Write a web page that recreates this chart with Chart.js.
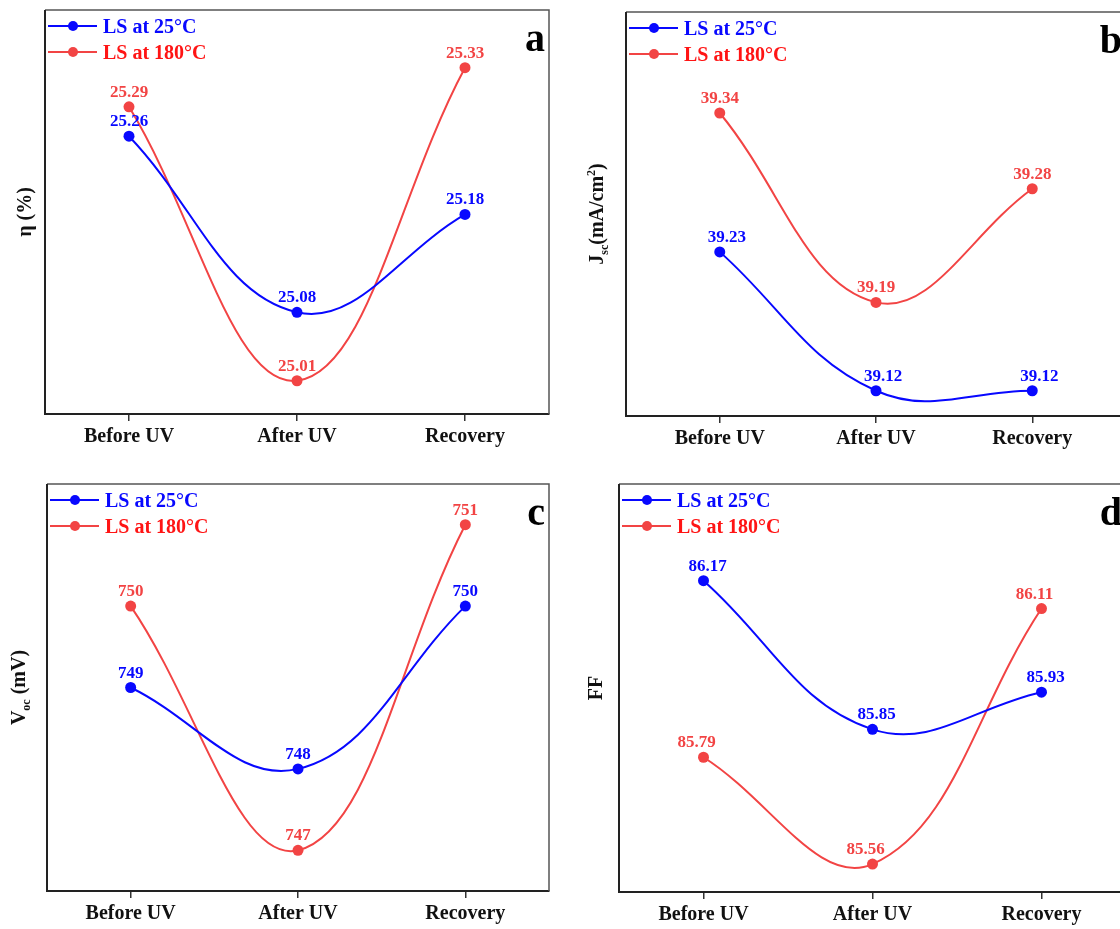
<!DOCTYPE html>
<html>
<head>
<meta charset="utf-8">
<script src="https://cdn.jsdelivr.net/npm/chart.js@4.4.1/dist/chart.umd.min.js"></script>
<style>
    html, body { margin: 0; padding: 0; background: #fff; overflow: hidden; }
    body { width: 1120px; height: 929px; position: relative; }
    canvas { position: absolute; }
</style>
</head>
<body>
<canvas id="chart-a" width="560" height="460" style="left:0;top:0"></canvas>
<canvas id="chart-b" width="580" height="460" style="left:560px;top:0"></canvas>
<canvas id="chart-c" width="560" height="480" style="left:0;top:455px"></canvas>
<canvas id="chart-d" width="580" height="480" style="left:560px;top:455px"></canvas>
<script>
// Datos
const categories = ['Before UV', 'After UV', 'Recovery'];
const seriesNames = ['LS at 25°C', 'LS at 180°C'];

const eta25 = [25.26, 25.08, 25.18];
const eta180 = [25.29, 25.01, 25.33];
const jsc25 = [39.23, 39.12, 39.12];
const jsc180 = [39.34, 39.19, 39.28];
const voc25 = [749, 748, 750];
const voc180 = [750, 747, 751];
const ff25 = [86.17, 85.85, 85.93];
const ff180 = [85.79, 85.56, 86.11];

const BLUE = '#0808ff';
const RED = '#f24444';
const RED_TEXT = '#ff1414';
const SERIF = '"Liberation Serif", "Times New Roman", serif';

// Texto con subíndices / superíndices, centrado en (0,0)
function drawRichText(ctx, parts, size) {
    const small = Math.round(size * 0.62);
    const fontFor = p => `bold ${p[1] ? small : size}px ${SERIF}`;
    let total = 0;
    parts.forEach(p => { ctx.font = fontFor(p); total += ctx.measureText(p[0]).width; });
    let x = -total / 2;
    const base = size * 0.32;
    parts.forEach(p => {
        ctx.font = fontFor(p);
        let dy = 0;
        if (p[1] === 'sub') dy = size * 0.22;
        if (p[1] === 'sup') dy = -size * 0.42;
        ctx.fillText(p[0], x, base + dy);
        x += ctx.measureText(p[0]).width;
    });
}

// Marco, leyenda, etiquetas de datos, título del eje y letra del panel
const panelPlugin = {
    id: 'panelDecor',
    afterDatasetsDraw(chart) {
        const opts = chart.options.plugins.panelDecor;
        const { ctx, chartArea: ca } = chart;
        ctx.save();

        // marco
        ctx.strokeStyle = '#555';
        ctx.lineWidth = 1.5;
        ctx.beginPath();
        ctx.moveTo(ca.left, ca.top);
        ctx.lineTo(ca.right, ca.top);
        ctx.lineTo(ca.right, ca.bottom);
        ctx.stroke();
        ctx.strokeStyle = '#222';
        ctx.lineWidth = 2;
        ctx.beginPath();
        ctx.moveTo(ca.left, ca.top);
        ctx.lineTo(ca.left, ca.bottom + 1);
        ctx.stroke();

        // etiquetas de valores
        ctx.textAlign = 'center';
        ctx.textBaseline = 'alphabetic';
        ctx.font = `bold 17px ${SERIF}`;
        chart.data.datasets.forEach((ds, i) => {
            const meta = chart.getDatasetMeta(i);
            ctx.fillStyle = ds.borderColor;
            meta.data.forEach((pt, j) => {
                const v = ds.data[j].y;
                ctx.fillText(v.toFixed(opts.decimals), pt.x + ds.labelDx, pt.y - 10);
            });
        });

        // leyenda
        chart.data.datasets.forEach((ds, i) => {
            const y = ca.top + 16 + i * 26;
            const x0 = ca.left + 3;
            ctx.strokeStyle = ds.borderColor;
            ctx.lineWidth = 2;
            ctx.beginPath();
            ctx.moveTo(x0, y);
            ctx.lineTo(x0 + 49, y);
            ctx.stroke();
            ctx.fillStyle = ds.borderColor;
            ctx.beginPath();
            ctx.arc(x0 + 25, y, 5, 0, Math.PI * 2);
            ctx.fill();
            ctx.font = `bold 20px ${SERIF}`;
            ctx.textAlign = 'left';
            ctx.fillStyle = i === 0 ? BLUE : RED_TEXT;
            ctx.fillText(ds.label, x0 + 55, y + 6.5);
        });

        // letra del panel
        ctx.font = `bold 40px ${SERIF}`;
        ctx.textAlign = 'right';
        ctx.fillStyle = '#000';
        ctx.fillText(opts.letter, ca.right - 4, ca.top + 41);

        // título del eje Y
        ctx.translate(ca.left - opts.titleGap, (ca.top + ca.bottom) / 2);
        ctx.rotate(-Math.PI / 2);
        ctx.textAlign = 'left';
        ctx.fillStyle = '#111';
        drawRichText(ctx, opts.title, 20);

        ctx.restore();
    }
};

function makePanel(id, cfg) {
    const ctx = document.getElementById(id).getContext('2d');
    const toXY = arr => arr.map((v, i) => ({ x: i, y: v }));
    new Chart(ctx, {
        type: 'line',
        data: {
            datasets: [
                {
                    label: seriesNames[0],
                    data: toXY(cfg.s25),
                    borderColor: BLUE,
                    backgroundColor: BLUE,
                    labelDx: cfg.dx[0]
                },
                {
                    label: seriesNames[1],
                    data: toXY(cfg.s180),
                    borderColor: RED,
                    backgroundColor: RED,
                    labelDx: cfg.dx[1]
                }
            ]
        },
        options: {
            responsive: false,
            animation: false,
            devicePixelRatio: 1,
            layout: { padding: cfg.padding },
            elements: {
                line: { borderWidth: 2, tension: 0.4 },
                point: { radius: 5.5, borderWidth: 0, hoverRadius: 5.5 }
            },
            scales: {
                x: {
                    type: 'linear',
                    min: cfg.xRange[0],
                    max: cfg.xRange[1],
                    afterBuildTicks: scale => {
                        scale.ticks = categories.map((c, i) => ({ value: i }));
                    },
                    ticks: {
                        callback: v => categories[v],
                        color: '#111',
                        padding: 4,
                        maxRotation: 0,
                        autoSkip: false,
                        font: { family: SERIF, size: 20, weight: 'bold', lineHeight: 1.2 }
                    },
                    grid: {
                        drawOnChartArea: false,
                        drawTicks: true,
                        tickLength: 7,
                        color: '#333',
                        lineWidth: 1.5
                    },
                    border: { display: true, color: '#222', width: 2 }
                },
                y: {
                    display: false,
                    min: cfg.yRange[0],
                    max: cfg.yRange[1]
                }
            },
            plugins: {
                legend: { display: false },
                tooltip: { enabled: false },
                panelDecor: {
                    letter: cfg.letter,
                    title: cfg.title,
                    titleGap: cfg.titleGap,
                    decimals: cfg.decimals
                }
            }
        },
        plugins: [panelPlugin]
    });
}

document.addEventListener('DOMContentLoaded', function() {
    makePanel('chart-a', {
        letter: 'a', s25: eta25, s180: eta180, decimals: 2, dx: [0, 0],
        xRange: [-0.5, 2.5], yRange: [24.976, 25.389],
        padding: { left: 45, right: 11, top: 10, bottom: 7 },
        title: [['η (%)']], titleGap: 20
    });
    makePanel('chart-b', {
        letter: 'b', s25: jsc25, s180: jsc180, decimals: 2, dx: [7, 0],
        xRange: [-0.6, 2.6], yRange: [39.100, 39.420],
        padding: { left: 66, right: 14, top: 12, bottom: 5 },
        title: [['J'], ['sc', 'sub'], ['(mA/cm'], ['2', 'sup'], [')']], titleGap: 29
    });
    makePanel('chart-c', {
        letter: 'c', s25: voc25, s180: voc180, decimals: 0, dx: [0, 0],
        xRange: [-0.5, 2.5], yRange: [746.5, 751.5],
        padding: { left: 47, right: 11, top: 29, bottom: 5 },
        title: [['V'], ['oc', 'sub'], [' (mV)']], titleGap: 28
    });
    makePanel('chart-d', {
        letter: 'd', s25: ff25, s180: ff180, decimals: 2, dx: [4, -7],
        xRange: [-0.5, 2.5], yRange: [85.50, 86.378],
        padding: { left: 59, right: 14, top: 29, bottom: 4 },
        title: [['FF']], titleGap: 23
    });
});
</script>
</body>
</html>
